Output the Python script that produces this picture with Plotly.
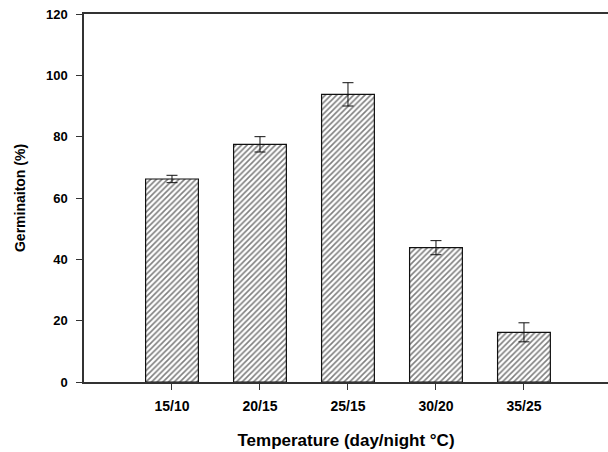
import plotly.graph_objects as go

categories = ["15/10", "20/15", "25/15", "30/20", "35/25"]
germination = [66.2, 77.5, 93.8, 43.8, 16.2]
errors = [1.2, 2.5, 3.8, 2.3, 3.1]
y_ticks = [0, 20, 40, 60, 80, 100, 120]

FONT = "Arial, 'Liberation Sans', sans-serif"

fig = go.Figure()
fig.add_trace(go.Bar(
    x=list(range(len(categories))),
    y=germination,
    width=0.6,
    marker=dict(
        color="white",
        line=dict(color="#111111", width=1.2),
        pattern=dict(shape="/", fgcolor="#000000", bgcolor="white", size=4, solidity=0.4),
    ),
    error_y=dict(type="data", array=errors, visible=True, color="#111111", thickness=1, width=5.5),
))

fig.update_layout(
    width=608, height=452,
    margin=dict(l=84, r=0, t=14, b=70),
    paper_bgcolor="white", plot_bgcolor="white",
    showlegend=False,
    font=dict(family=FONT, color="black"),
    xaxis=dict(
        range=[-1, 4.955],
        tickmode="array",
        tickvals=list(range(len(categories))),
        ticktext=categories,
        ticks="outside", ticklen=6, tickcolor="#333333", tickwidth=1,
        ticklabelstandoff=4,
        showline=True, linecolor="#333333", linewidth=1.5, mirror=True,
        showgrid=False, zeroline=False,
        tickfont=dict(size=14, family=FONT, weight="bold"),
        title=dict(text="Temperature (day/night °C)", font=dict(size=17, family=FONT, weight="bold"), standoff=22),
    ),
    yaxis=dict(
        range=[0, 120],
        tickmode="array", tickvals=y_ticks,
        ticks="outside", ticklen=6, tickcolor="#333333", tickwidth=1,
        ticklabelstandoff=6,
        showline=True, linecolor="#333333", linewidth=1.5, mirror=False,
        showgrid=False, zeroline=False,
        tickfont=dict(size=13, family=FONT, weight="bold"),
        title=dict(text="Germinaiton (%)", font=dict(size=14, family=FONT, weight="bold"), standoff=17),
    ),
)

fig.write_html("out.html")
